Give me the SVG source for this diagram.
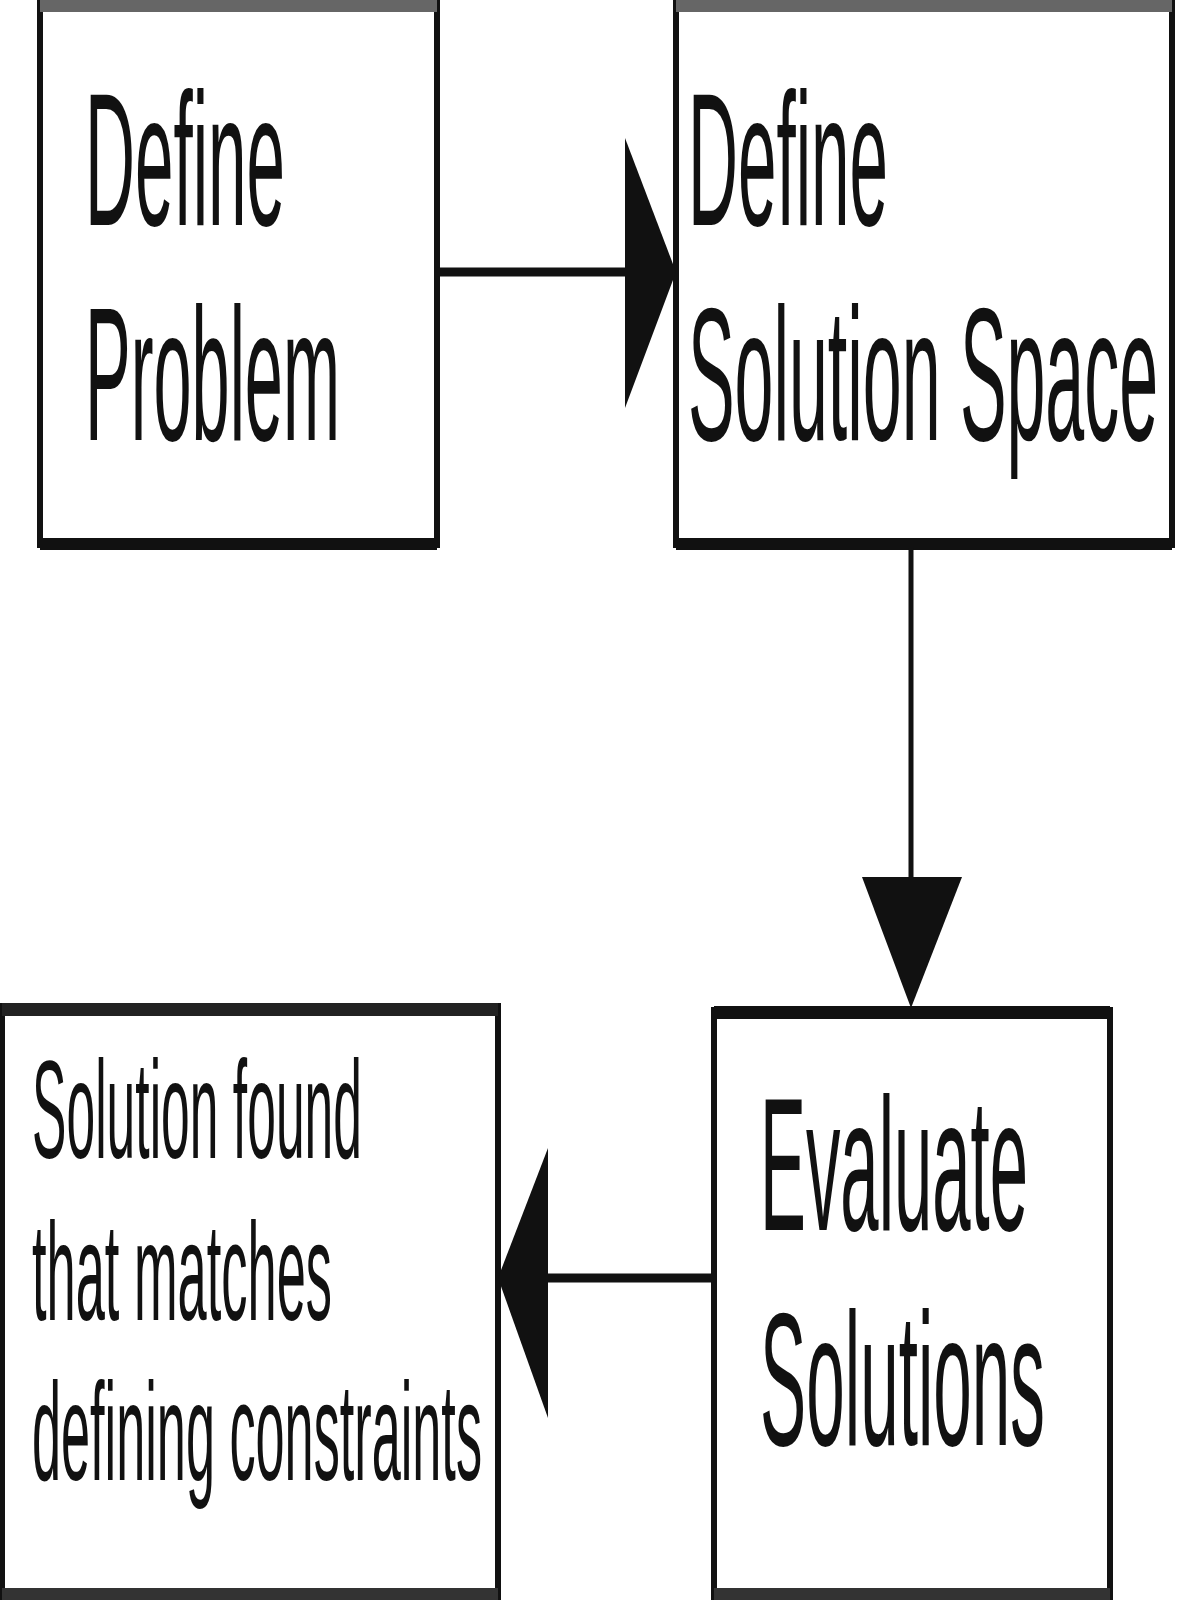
<svg xmlns="http://www.w3.org/2000/svg" width="1200" height="1600" viewBox="0 0 1200 1600">
<style>
.box{fill:#fff;stroke:#111;stroke-width:6}
.t{font-family:"Liberation Sans",Arial,sans-serif;fill:#111}
.big{font-size:190px}
.small{font-size:140px}
.edge{stroke:#111;fill:none}
</style>
<rect width="1200" height="1600" fill="#fff"/>
<g id="n1">
<rect class="box" x="40" y="-10" width="397" height="555"/>
<rect x="40" y="0" width="397" height="12" fill="#666"/>
<rect x="40" y="538" width="397" height="12" fill="#111"/>
<text class="t big" x="85" y="225" textLength="200" lengthAdjust="spacingAndGlyphs">Define</text>
<text class="t big" x="85" y="440" textLength="255" lengthAdjust="spacingAndGlyphs">Problem</text>
</g>
<g id="n2">
<rect class="box" x="676" y="-10" width="496" height="555"/>
<rect x="676" y="0" width="496" height="12" fill="#666"/>
<rect x="676" y="538" width="496" height="12" fill="#111"/>
<text class="t big" x="688" y="225" textLength="200" lengthAdjust="spacingAndGlyphs">Define</text>
<text class="t big" x="688" y="440" textLength="470" lengthAdjust="spacingAndGlyphs">Solution Space</text>
</g>
<g id="n3">
<rect class="box" x="714" y="1010" width="396" height="600"/>
<rect x="714" y="1006" width="396" height="13" fill="#111"/>
<rect x="714" y="1588" width="396" height="12" fill="#333"/>
<text class="t big" x="760" y="1230" textLength="268" lengthAdjust="spacingAndGlyphs">Evaluate</text>
<text class="t big" x="760" y="1445" textLength="285" lengthAdjust="spacingAndGlyphs">Solutions</text>
</g>
<g id="n4">
<rect class="box" x="2" y="1006" width="496" height="604"/>
<rect x="2" y="1003" width="496" height="13" fill="#222"/>
<rect x="2" y="1588" width="496" height="12" fill="#333"/>
<text class="t small" x="32" y="1158" textLength="330" lengthAdjust="spacingAndGlyphs">Solution found</text>
<text class="t small" x="32" y="1320" textLength="300" lengthAdjust="spacingAndGlyphs">that matches</text>
<text class="t small" x="32" y="1480" textLength="450" lengthAdjust="spacingAndGlyphs">defining constraints</text>
</g>
<g id="edges">
<line class="edge" x1="437" y1="272" x2="630" y2="272" stroke-width="9"/>
<polygon points="625,138 676,272 625,408" fill="#111"/>
<line class="edge" x1="911" y1="548" x2="911" y2="880" stroke-width="5"/>
<polygon points="862,877 962,877 911,1008" fill="#111"/>
<line class="edge" x1="714" y1="1278" x2="545" y2="1278" stroke-width="9"/>
<polygon points="548,1148 498,1278 548,1418" fill="#111"/>
</g>
</svg>
